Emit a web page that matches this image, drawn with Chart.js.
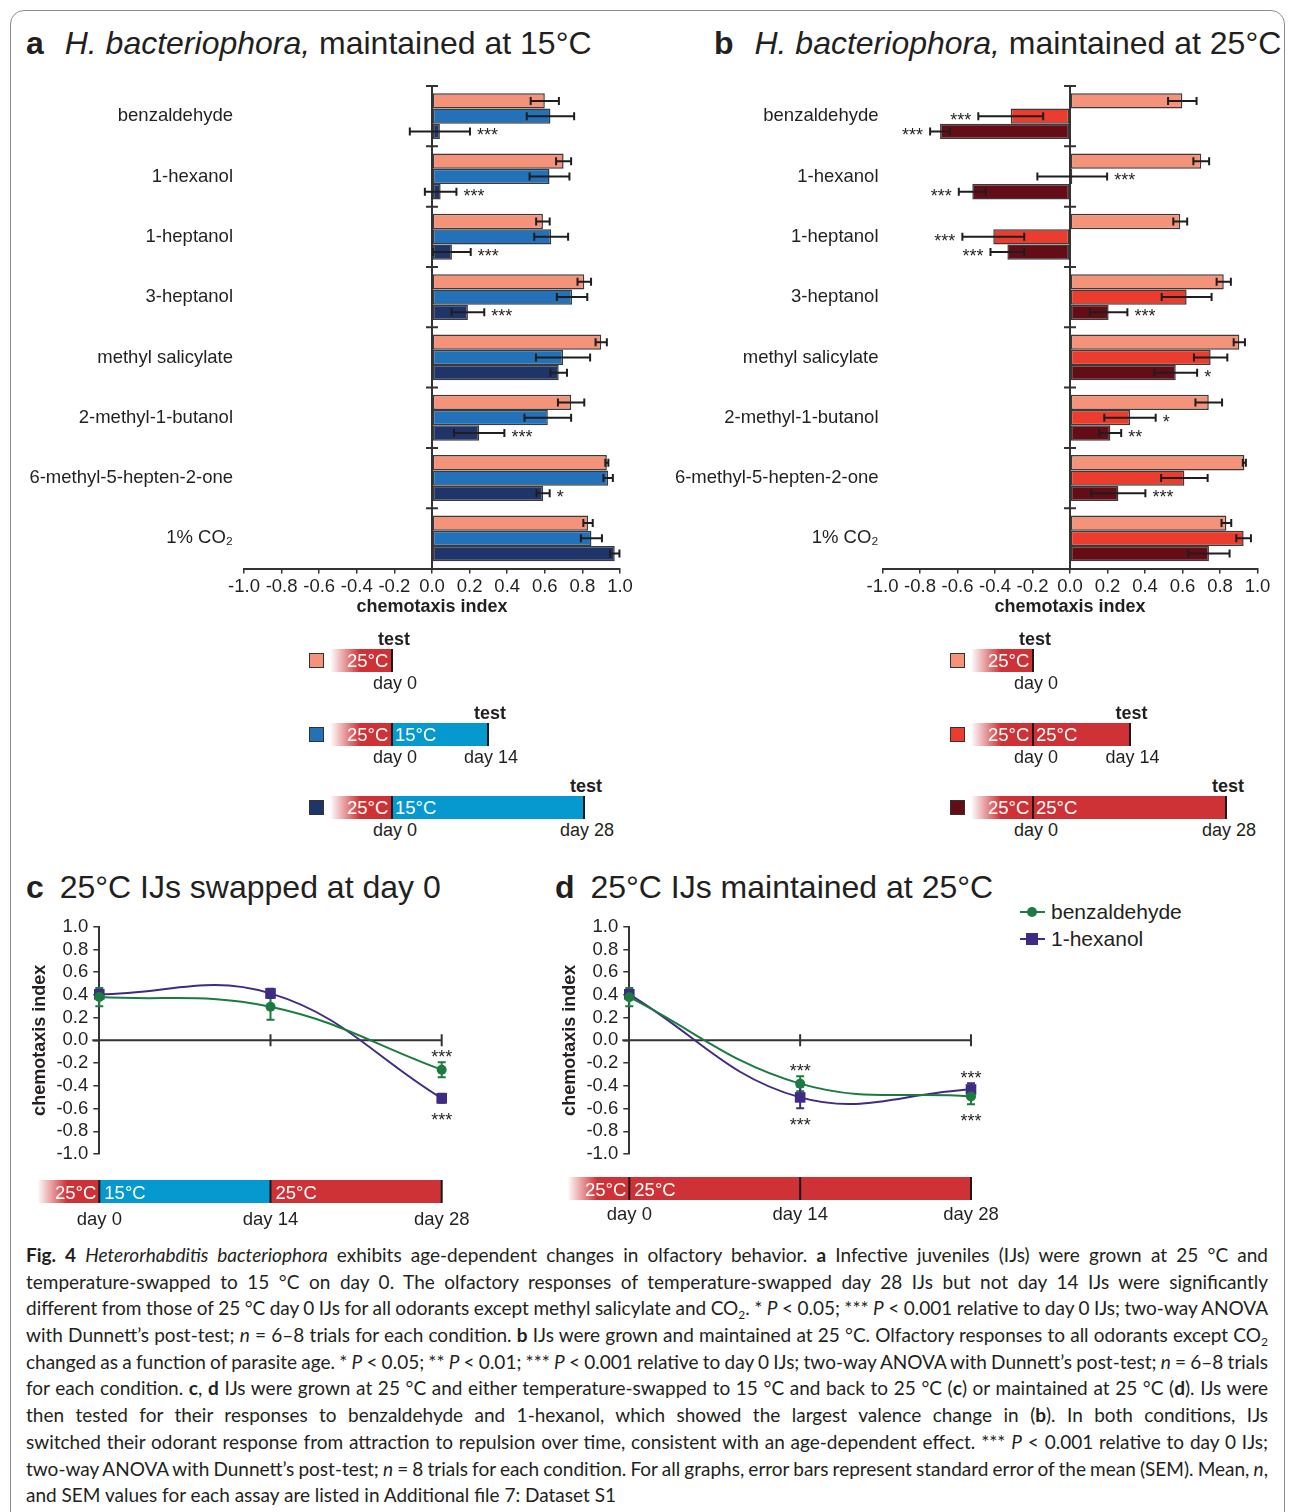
<!DOCTYPE html>
<html>
<head>
<meta charset="utf-8">
<script src="https://cdn.jsdelivr.net/npm/chart.js@4.4.1/dist/chart.umd.min.js"></script>
<style>
  body { margin: 0; background: #fff; width: 1295px; height: 1512px; position: relative; overflow: hidden;
         font-family: 'Liberation Sans', Arial, Helvetica, sans-serif; color: #231f20; }
  .frame { position: absolute; left: 10px; top: 10px; width: 1273px; height: 1530px; border: 1.5px solid #8c8c8c; border-radius: 14px; }
  .box { position: absolute; }
  .ttl { position: absolute; font-size: 32px; line-height: 36px; white-space: nowrap; }
  .ttl b { margin-right: 12px; }
  .ttl.s b { margin-right: 7px; }
  .lab { position: absolute; font-size: 18px; line-height: 20px; white-space: nowrap; }
  .seg { position: absolute; }
  .lg { position: absolute; font-size: 21px; line-height: 24px; white-space: nowrap; }
  .cap { position: absolute; left: 26px; top: 1242px; width: 1242px; font-family: Lato, 'Open Sans', sans-serif; font-size: 19px; line-height: 26.7px; color: #231f20; }
  .cap .ln { white-space: nowrap; display: block; width: max-content; height: 26.7px; }
  .cap .sb { font-size: 12px; line-height: 0; position: relative; top: 4px; }
</style>
</head>
<body>
<div class="frame"></div>

<div class="ttl" style="left:26px;top:25px"><b>a</b> <i>H. bacteriophora,</i> maintained at 15°C</div>
<div class="ttl" style="left:714px;top:25px"><b>b</b> <i>H. bacteriophora,</i> maintained at 25°C</div>
<div class="ttl s" style="left:26px;top:869px"><b>c</b> 25°C IJs swapped at day 0</div>
<div class="ttl s" style="left:555px;top:869px"><b>d</b> 25°C IJs maintained at 25°C</div>

<div class="box" style="left:0;top:70px;width:640px;height:560px"><canvas id="chartA" width="640" height="560"></canvas></div>
<div class="box" style="left:640px;top:70px;width:645px;height:560px"><canvas id="chartB" width="645" height="560"></canvas></div>
<div class="box" style="left:0;top:900px;width:520px;height:340px"><canvas id="chartC" width="520" height="340"></canvas></div>
<div class="box" style="left:530px;top:900px;width:480px;height:340px"><canvas id="chartD" width="480" height="340"></canvas></div>

<div id="legends"></div>

<div class="lg" style="left:1020px;top:900px">
  <span style="position:absolute;left:0;top:11px;width:25px;height:2px;background:#1b7b40"></span>
  <span style="position:absolute;left:7px;top:7px;width:10px;height:10px;border-radius:50%;background:#1b7b40"></span>
  <span style="position:absolute;left:31px;top:0">benzaldehyde</span>
</div>
<div class="lg" style="left:1020px;top:927px">
  <span style="position:absolute;left:0;top:11px;width:25px;height:2px;background:#3f2a84"></span>
  <span style="position:absolute;left:6px;top:6px;width:12px;height:12px;background:#3f2a84"></span>
  <span style="position:absolute;left:31px;top:0">1-hexanol</span>
</div>

<div class="cap" id="cap">
  <span class="ln j"><b>Fig. 4</b> <i>Heterorhabditis bacteriophora</i> exhibits age-dependent changes in olfactory behavior. <b>a</b> Infective juveniles (IJs) were grown at 25 °C and</span>
  <span class="ln j">temperature-swapped to 15 °C on day 0. The olfactory responses of temperature-swapped day 28 IJs but not day 14 IJs were significantly</span>
  <span class="ln j">different from those of 25 °C day 0 IJs for all odorants except methyl salicylate and CO<span class="sb">2</span>. * <i>P</i> &lt; 0.05; *** <i>P</i> &lt; 0.001 relative to day 0 IJs; two-way ANOVA</span>
  <span class="ln j">with Dunnett’s post-test; <i>n</i> = 6–8 trials for each condition. <b>b</b> IJs were grown and maintained at 25 °C. Olfactory responses to all odorants except CO<span class="sb">2</span></span>
  <span class="ln j">changed as a function of parasite age. * <i>P</i> &lt; 0.05; ** <i>P</i> &lt; 0.01; *** <i>P</i> &lt; 0.001 relative to day 0 IJs; two-way ANOVA with Dunnett’s post-test; <i>n</i> = 6–8 trials</span>
  <span class="ln j">for each condition. <b>c</b>, <b>d</b> IJs were grown at 25 °C and either temperature-swapped to 15 °C and back to 25 °C (<b>c</b>) or maintained at 25 °C (<b>d</b>). IJs were</span>
  <span class="ln j">then tested for their responses to benzaldehyde and 1-hexanol, which showed the largest valence change in (<b>b</b>). In both conditions, IJs</span>
  <span class="ln j">switched their odorant response from attraction to repulsion over time, consistent with an age-dependent effect. *** <i>P</i> &lt; 0.001 relative to day 0 IJs;</span>
  <span class="ln j">two-way ANOVA with Dunnett’s post-test; <i>n</i> = 8 trials for each condition. For all graphs, error bars represent standard error of the mean (SEM). Mean, <i>n</i>,</span>
  <span class="ln">and SEM values for each assay are listed in Additional file 7: Dataset S1</span>
</div>

<script>
// ---- data ----
const odorants = ['benzaldehyde', '1-hexanol', '1-heptanol', '3-heptanol', 'methyl salicylate',
                  '2-methyl-1-butanol', '6-methyl-5-hepten-2-one', '1% CO₂'];
const axisTicks = [-1.0, -0.8, -0.6, -0.4, -0.2, 0.0, 0.2, 0.4, 0.6, 0.8, 1.0];

// panel a: maintained at 15 °C
const aDay0 = [0.60, 0.70, 0.59, 0.81, 0.90, 0.74, 0.93, 0.83];
const aDay0Err = [0.075, 0.04, 0.036, 0.036, 0.03, 0.07, 0.008, 0.025];
const aDay14 = [0.63, 0.625, 0.634, 0.745, 0.697, 0.616, 0.937, 0.848];
const aDay14Err = [0.126, 0.106, 0.09, 0.081, 0.144, 0.124, 0.025, 0.056];
const aDay28 = [0.042, 0.046, 0.106, 0.191, 0.674, 0.251, 0.591, 0.972];
const aDay28Err = [0.16, 0.084, 0.1, 0.087, 0.044, 0.134, 0.035, 0.025];
const aStars14 = ['', '', '', '', '', '', '', ''];
const aStars28 = ['***', '***', '***', '***', '', '***', '*', ''];

// panel b: maintained at 25 °C
const bDay0 = [0.599, 0.70, 0.588, 0.82, 0.903, 0.74, 0.93, 0.834];
const bDay0Err = [0.076, 0.042, 0.037, 0.038, 0.03, 0.071, 0.008, 0.026];
const bDay14 = [-0.316, 0.012, -0.409, 0.622, 0.75, 0.32, 0.61, 0.926];
const bDay14Err = [0.173, 0.186, 0.165, 0.133, 0.089, 0.137, 0.124, 0.039];
const bDay28 = [-0.693, -0.521, -0.334, 0.206, 0.564, 0.215, 0.258, 0.741];
const bDay28Err = [0.053, 0.072, 0.09, 0.1, 0.114, 0.058, 0.144, 0.11];
const bStars14 = ['***', '***', '***', '', '', '*', '', ''];
const bStars28 = ['***', '***', '***', '***', '*', '**', '***', ''];
const noStars = ['', '', '', '', '', '', '', ''];

// panels c, d: time course
const days = [0, 14, 28];
const dayTicks = ['day 0', 'day 14', 'day 28'];
const cBenz = [0.381, 0.296, -0.258];
const cBenzErr = [0.08, 0.114, 0.066];
const cHex = [0.405, 0.413, -0.51];
const cHexErr = [0.03, 0.04, 0.04];
const cBenzStars = ['', '', '***'];
const cHexStars = ['', '', '***'];
const dBenz = [0.38, -0.381, -0.493];
const dBenzErr = [0.08, 0.066, 0.07];
const dHex = [0.405, -0.502, -0.432];
const dHexErr = [0.03, 0.095, 0.055];
const dBenzStars = ['', '***', '***'];
const dHexStars = ['', '***', '***'];

// temperature phases: lead-in, day 0-14, day 14-28
const cPhases = ['25°C', '15°C', '25°C'];
const dPhases = ['25°C', '25°C', ''];

const SALMON = '#f4927a', BLUE = '#2372b9', NAVY = '#1f3469';
const RED = '#ec3c2d', DARKRED = '#640d17';
const GREEN = '#1b7b40', PURPLE = '#3f2a84';
const TL_RED = '#cf3236', TL_BLUE = '#0599cf';
const FONT = "'Liberation Sans', Arial, Helvetica, sans-serif";

Chart.defaults.font.family = FONT;
Chart.defaults.color = '#231f20';
Chart.defaults.animation = false;

const fmt1 = v => Math.abs(v) < 1e-9 ? '0.0' : v.toFixed(1);

function barExtras(errors, stars) {
  return {
    id: 'barExtras',
    afterDatasetsDraw(chart) {
      const { ctx, chartArea: ca, scales: { x, y } } = chart;
      const x0 = x.getPixelForValue(0);
      const band = (ca.bottom - ca.top) / odorants.length;
      ctx.save();
      ctx.strokeStyle = '#333';
      ctx.lineWidth = 2;
      ctx.beginPath();
      ctx.moveTo(x0, ca.top);
      ctx.lineTo(x0, ca.bottom);
      odorants.forEach((o, i) => {
        const yy = y.getPixelForValue(i) - band / 2;
        ctx.moveTo(x0 - 6, yy);
        ctx.lineTo(x0 + 6, yy);
      });
      ctx.stroke();
      ctx.strokeStyle = '#1e1e1e';
      ctx.fillStyle = '#231f20';
      ctx.font = '18px ' + FONT;
      chart.data.datasets.forEach((ds, di) => {
        const meta = chart.getDatasetMeta(di);
        meta.data.forEach((bar, i) => {
          const v = ds.data[i], e = errors[di][i];
          const xl = x.getPixelForValue(v - e), xr = x.getPixelForValue(v + e);
          const yy = bar.y;
          ctx.beginPath();
          ctx.moveTo(xl, yy); ctx.lineTo(xr, yy);
          ctx.moveTo(xl, yy - 4); ctx.lineTo(xl, yy + 4);
          ctx.moveTo(xr, yy - 4); ctx.lineTo(xr, yy + 4);
          ctx.stroke();
          const s = stars[di][i];
          if (s) {
            ctx.textAlign = v >= 0 ? 'left' : 'right';
            ctx.fillText(s, v >= 0 ? xr + 7 : xl - 7, yy + 10);
          }
        });
      });
      ctx.restore();
    }
  };
}

function barChart(id, yAxisWidth, rightPad, labelPad, series, colors, errors, stars) {
  return new Chart(document.getElementById(id), {
    type: 'bar',
    data: {
      labels: odorants,
      datasets: series.map((d, i) => ({
        data: d, backgroundColor: colors[i], borderColor: '#3a3a3a', borderWidth: 1.5,
        borderSkipped: false, barPercentage: 1.0, categoryPercentage: 0.76
      }))
    },
    options: {
      responsive: false,
      indexAxis: 'y',
      layout: { padding: { top: 16, right: rightPad, left: 0, bottom: 0 }, autoPadding: false },
      plugins: { legend: { display: false }, tooltip: { enabled: false } },
      scales: {
        x: {
          min: -1, max: 1,
          afterBuildTicks: s => { s.ticks = axisTicks.map(v => ({ value: v })); },
          afterFit: s => { s.height = 61.5; s.paddingLeft = 0; s.paddingRight = 0; },
          ticks: { callback: v => fmt1(v), font: { size: 18.5 }, color: '#231f20', padding: 2, maxRotation: 0, autoSkip: false },
          grid: { drawOnChartArea: false, drawTicks: true, tickLength: 5, color: '#333', lineWidth: 1.5 },
          border: { display: true, color: '#333', width: 2 },
          title: { display: true, text: 'chemotaxis index', font: { size: 18, weight: 'bold' }, color: '#231f20', padding: { top: 0, bottom: 12 } }
        },
        y: {
          afterFit: s => { s.width = yAxisWidth; s.paddingTop = 0; s.paddingBottom = 0; },
          ticks: { font: { size: 18.5 }, color: '#231f20', padding: labelPad, autoSkip: false },
          grid: { display: false, drawTicks: false },
          border: { display: false }
        }
      }
    },
    plugins: [barExtras(errors, stars)]
  });
}

barChart('chartA', 244, 20, 11, [aDay0, aDay14, aDay28], [SALMON, BLUE, NAVY],
         [aDay0Err, aDay14Err, aDay28Err], [noStars, aStars14, aStars28]);
barChart('chartB', 242.5, 27.5, 4, [bDay0, bDay14, bDay28], [SALMON, RED, DARKRED],
         [bDay0Err, bDay14Err, bDay28Err], [noStars, bStars14, bStars28]);

function lineExtras(series, phases, phaseColors, barTop, barH) {
  return {
    id: 'lineExtras',
    beforeDatasetsDraw(chart) {
      const { ctx, scales: { x, y } } = chart;
      const y0 = y.getPixelForValue(0);
      ctx.save();
      ctx.strokeStyle = '#333';
      ctx.lineWidth = 2;
      ctx.beginPath();
      ctx.moveTo(x.getPixelForValue(days[0]) - 7, y0);
      ctx.lineTo(x.getPixelForValue(days[days.length - 1]), y0);
      days.slice(1).forEach(d => {
        const px = x.getPixelForValue(d);
        ctx.moveTo(px, y0 - 6); ctx.lineTo(px, y0 + 6);
      });
      ctx.stroke();
      series.forEach(s => {
        ctx.strokeStyle = s.color;
        ctx.beginPath();
        days.forEach((d, i) => {
          const px = x.getPixelForValue(d);
          const yt = y.getPixelForValue(s.vals[i] + s.errs[i]);
          const yb = y.getPixelForValue(s.vals[i] - s.errs[i]);
          ctx.moveTo(px, yt); ctx.lineTo(px, yb);
          ctx.moveTo(px - 4, yt); ctx.lineTo(px + 4, yt);
          ctx.moveTo(px - 4, yb); ctx.lineTo(px + 4, yb);
        });
        ctx.stroke();
      });
      ctx.restore();
    },
    afterDraw(chart) {
      const { ctx, scales: { x, y } } = chart;
      ctx.save();
      ctx.fillStyle = '#231f20';
      ctx.font = '18px ' + FONT;
      ctx.textAlign = 'center';
      days.forEach((d, i) => {
        const px = x.getPixelForValue(d);
        series.forEach((s, si) => {
          if (!s.stars[i]) return;
          const other = series[1 - si];
          if (s.vals[i] >= other.vals[i]) {
            ctx.fillText(s.stars[i], px, y.getPixelForValue(s.vals[i] + s.errs[i]) + 1);
          } else {
            ctx.fillText(s.stars[i], px, y.getPixelForValue(s.vals[i] - s.errs[i]) + 23);
          }
        });
      });
      // temperature timeline
      const xs = days.map(d => x.getPixelForValue(d));
      const lead = xs[0] - 62;
      const g = ctx.createLinearGradient(lead, 0, lead + 30, 0);
      g.addColorStop(0, 'rgba(207,50,54,0)');
      g.addColorStop(1, TL_RED);
      ctx.fillStyle = g;
      ctx.fillRect(lead, barTop, 62, barH);
      for (let k = 1; k < xs.length; k++) {
        ctx.fillStyle = phaseColors[k];
        ctx.fillRect(xs[k - 1], barTop, xs[k] - xs[k - 1], barH);
      }
      ctx.strokeStyle = '#1a1a1a';
      ctx.lineWidth = 2;
      ctx.beginPath();
      xs.forEach(px => { ctx.moveTo(px, barTop); ctx.lineTo(px, barTop + barH); });
      ctx.stroke();
      ctx.fillStyle = '#fff';
      ctx.font = '18.5px ' + FONT;
      ctx.textAlign = 'right';
      ctx.fillText(phases[0], xs[0] - 3, barTop + barH / 2 + 7);
      ctx.textAlign = 'left';
      for (let k = 1; k < xs.length; k++) {
        if (phases[k]) ctx.fillText(phases[k], xs[k - 1] + 5, barTop + barH / 2 + 7);
      }
      ctx.restore();
    }
  };
}

function lineChart(id, rightPad, benz, hex, series, phases, phaseColors, barTop, labelPad) {
  return new Chart(document.getElementById(id), {
    type: 'line',
    data: {
      datasets: [
        { label: 'benzaldehyde', data: days.map((d, i) => ({ x: d, y: benz[i] })),
          borderColor: GREEN, backgroundColor: GREEN, pointStyle: 'circle', pointRadius: 5,
          pointBorderWidth: 0, borderWidth: 2, tension: 0.4, clip: false },
        { label: '1-hexanol', data: days.map((d, i) => ({ x: d, y: hex[i] })),
          borderColor: PURPLE, backgroundColor: PURPLE, pointStyle: 'rect', pointRadius: 7.5,
          pointBorderWidth: 0, borderWidth: 2, tension: 0.4, clip: false }
      ]
    },
    options: {
      responsive: false,
      layout: { padding: { top: 26.7, right: rightPad, left: 0, bottom: 0 }, autoPadding: false },
      plugins: { legend: { display: false }, tooltip: { enabled: false } },
      scales: {
        x: {
          type: 'linear', min: 0, max: 28,
          afterBuildTicks: s => { s.ticks = days.map(v => ({ value: v })); },
          afterFit: s => { s.height = 86; s.paddingLeft = 0; s.paddingRight = 0; },
          ticks: { callback: (v, i) => dayTicks[i], font: { size: 18.5 }, color: '#231f20', padding: labelPad, maxRotation: 0, autoSkip: false },
          grid: { display: false, drawTicks: false },
          border: { display: false }
        },
        y: {
          min: -1, max: 1,
          afterBuildTicks: s => { s.ticks = axisTicks.map(v => ({ value: v })); },
          afterFit: s => { s.width = 99.3; s.paddingTop = 0; s.paddingBottom = 0; },
          ticks: { callback: v => fmt1(v), font: { size: 18.5 }, color: '#231f20', padding: 5, autoSkip: false },
          grid: { drawOnChartArea: false, drawTicks: true, tickLength: 6, color: '#333', lineWidth: 1.5 },
          border: { display: true, color: '#333', width: 2 },
          title: { display: true, text: 'chemotaxis index', font: { size: 18, weight: 'bold' }, color: '#231f20', padding: { top: 29 } }
        }
      }
    },
    plugins: [lineExtras(series, phases, phaseColors, barTop, 23)]
  });
}

lineChart('chartC', 78.3, cBenz, cHex,
  [{ vals: cBenz, errs: cBenzErr, stars: cBenzStars, color: GREEN },
   { vals: cHex, errs: cHexErr, stars: cHexStars, color: PURPLE }],
  cPhases, [TL_RED, TL_BLUE, TL_RED], 280, 55);
lineChart('chartD', 39, dBenz, dHex,
  [{ vals: dBenz, errs: dBenzErr, stars: dBenzStars, color: GREEN },
   { vals: dHex, errs: dHexErr, stars: dHexStars, color: PURPLE }],
  dPhases, [TL_RED, TL_RED, TL_RED], 277, 50);

// legend timelines under panels a and b
function legendBlock(x0, pxPerDay, swatches, laterLabel, laterColor) {
  const host = document.getElementById('legends');
  const rowTops = [649, 723, 796];
  const ends = [0, 14, 28];
  rowTops.forEach((top, r) => {
    const endX = x0 + ends[r] * pxPerDay;
    let h = '';
    h += `<div class="seg" style="left:${x0 - 83}px;top:${top + 4}px;width:13px;height:13px;background:${swatches[r]};border:1px solid #333"></div>`;
    h += `<div class="seg" style="left:${x0 - 62}px;top:${top}px;width:62px;height:23px;background:linear-gradient(to right, rgba(207,50,54,0), ${TL_RED} 30px)"></div>`;
    if (ends[r] > 0) {
      h += `<div class="seg" style="left:${x0}px;top:${top}px;width:${endX - x0}px;height:23px;background:${laterColor}"></div>`;
      h += `<div class="lab" style="left:${x0 + 3}px;top:${top + 2}px;color:#fff;font-size:18.5px">${laterLabel}</div>`;
    }
    h += `<div class="lab" style="left:${x0 - 45}px;top:${top + 2}px;color:#fff;font-size:18.5px">25°C</div>`;
    h += `<div class="seg" style="left:${x0 - 1}px;top:${top}px;width:2px;height:23px;background:#1a1a1a"></div>`;
    if (ends[r] > 0) h += `<div class="seg" style="left:${endX - 1}px;top:${top}px;width:2px;height:23px;background:#1a1a1a"></div>`;
    h += `<div class="lab" style="left:${endX - 40}px;width:84px;text-align:center;top:${top - 20}px;font-weight:bold">test</div>`;
    h += `<div class="lab" style="left:${x0 - 40}px;width:86px;text-align:center;top:${top + 24}px">day 0</div>`;
    if (ends[r] > 0) h += `<div class="lab" style="left:${endX - 40}px;width:86px;text-align:center;top:${top + 24}px">day ${ends[r]}</div>`;
    host.insertAdjacentHTML('beforeend', h);
  });
}
legendBlock(392, 96 / 14, [SALMON, BLUE, NAVY], '15°C', TL_BLUE);
legendBlock(1033, 96.5 / 14, [SALMON, RED, DARKRED], '25°C', TL_RED);

// justify caption lines to the text width
document.fonts.ready.then(() => {
  document.querySelectorAll('#cap .ln.j').forEach(el => {
    const w = el.getBoundingClientRect().width;
    const n = (el.textContent.match(/ /g) || []).length;
    el.style.wordSpacing = ((1242 - w) / n) + 'px';
  });
});
</script>
</body>
</html>
